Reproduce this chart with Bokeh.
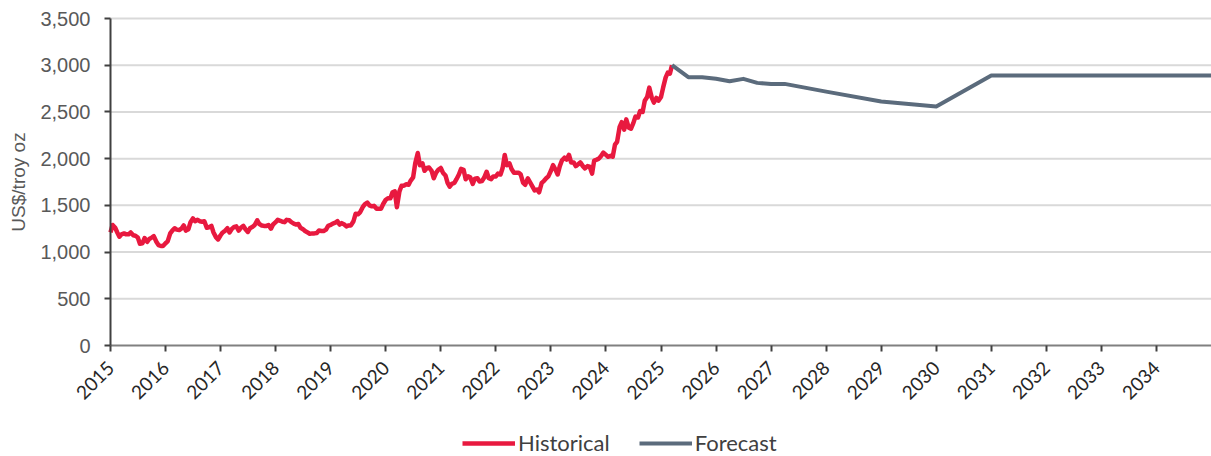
import math
import pandas as pd
from bokeh.plotting import figure
from bokeh.models import (ColumnDataSource, Legend, LegendItem, FixedTicker,
                          NumeralTickFormatter, Range1d, Label)
from bokeh.embed import file_html
from bokeh.resources import INLINE

# ---------------- data ----------------
hist_start = "2015-01-01"   # semi-monthly observations (1st and 15th)
hist_values = [
    # 2015
    1210, 1290, 1260, 1210, 1165, 1190, 1200, 1190, 1190, 1210, 1180, 1175,
    1155, 1090, 1095, 1150, 1110, 1140, 1155, 1170, 1110, 1075, 1065, 1065,
    # 2016
    1095, 1115, 1200, 1230, 1255, 1240, 1235, 1250, 1285, 1230, 1245, 1320,
    1360, 1330, 1345, 1330, 1325, 1330, 1260, 1265, 1280, 1210, 1160, 1135,
    # 2017
    1180, 1210, 1230, 1255, 1210, 1245, 1270, 1275, 1230, 1260, 1280, 1245,
    1215, 1255, 1270, 1290, 1340, 1300, 1285, 1280, 1280, 1290, 1250, 1295,
    # 2018
    1320, 1345, 1335, 1325, 1320, 1345, 1340, 1320, 1305, 1295, 1300, 1260,
    1245, 1225, 1210, 1195, 1200, 1200, 1205, 1230, 1225, 1225, 1240, 1280,
    # 2019
    1290, 1305, 1315, 1330, 1295, 1310, 1295, 1275, 1285, 1285, 1330, 1410,
    1405, 1425, 1480, 1510, 1530, 1500, 1490, 1495, 1465, 1465, 1465, 1515,
    # 2020
    1560, 1575, 1575, 1640, 1650, 1480, 1650, 1710, 1710, 1725, 1720, 1765,
    1800, 1950, 2060, 1930, 1950, 1870, 1900, 1905, 1870, 1790, 1850, 1880,
    # 2021
    1900, 1850, 1820, 1740, 1700, 1730, 1740, 1780, 1830, 1890, 1880, 1780,
    1810, 1800, 1730, 1785, 1790, 1755, 1760, 1795, 1860, 1790, 1780, 1810,
    # 2022
    1810, 1840, 1830, 1900, 2040, 1930, 1950, 1890, 1850, 1850, 1850, 1830,
    1740, 1720, 1790, 1750, 1700, 1660, 1670, 1640, 1740, 1760, 1790, 1810,
    # 2023
    1870, 1930, 1880, 1830, 1920, 1980, 2010, 1990, 2040, 1960, 1960, 1920,
    1940, 1960, 1920, 1895, 1920, 1915, 1840, 1980, 1990, 2000, 2030, 2065,
    # 2024
    2040, 2020, 2030, 2020, 2150, 2180, 2340, 2390, 2310, 2420, 2330, 2320,
    2380, 2450, 2440, 2510, 2500, 2620, 2660, 2760, 2650, 2600, 2650, 2620,
    # 2025
    2660, 2760, 2870, 2920, 2910, 3000,
]

fc_dates = ["2025-03-15", "2025-07-01", "2025-10-01", "2026-01-01", "2026-04-01",
            "2026-07-01", "2026-10-01", "2027-01-01", "2027-04-01", "2028-01-01",
            "2029-01-01", "2030-01-01", "2031-01-01", "2035-01-01"]
fc_values = [3000, 2872, 2872, 2855, 2829, 2854, 2811, 2800, 2800, 2717,
             2611, 2558, 2890, 2890]

year_ticks = list(range(2015, 2035))
y_ticks = [0, 500, 1000, 1500, 2000, 2500, 3000, 3500]
x_start, x_end = 2015, 2035
y_max = 3500


def decimal_year(dates):
    d = pd.to_datetime(pd.Series(dates))
    days = d.dt.is_leap_year.map({True: 366, False: 365})
    return (d.dt.year + (d.dt.dayofyear - 1) / days).tolist()


hist_dates = pd.date_range(hist_start, periods=len(hist_values), freq="SMS")
hist_src = ColumnDataSource(dict(x=decimal_year(hist_dates), y=hist_values))
fc_src = ColumnDataSource(dict(x=decimal_year(fc_dates), y=fc_values))
grid_src = ColumnDataSource(dict(y=y_ticks[1:],
                                 x0=[x_start] * (len(y_ticks) - 1),
                                 x1=[x_end] * (len(y_ticks) - 1)))

# ---------------- layout ----------------
RED = "#E8193F"
SLATE = "#5B6B7C"
TXT = "#595959"

# the frame covers the whole canvas; the data area (2015-2035, 0-3500)
# sits 110 px from the left, 18 px from the top and 111 px above the
# bottom, leaving room for the y labels, rotated year labels and legend
W, LEFT, PLOT_W = 1211, 110, 1101
TOP, PLOT_H, BELOW_H = 18, 327, 111
x_lo = x_start - (x_end - x_start) * LEFT / PLOT_W
y_lo = -y_max * BELOW_H / PLOT_H
y_hi = y_max + y_max * TOP / PLOT_H

p = figure(frame_width=W, frame_height=TOP + PLOT_H + BELOW_H,
           x_range=Range1d(x_lo, x_end), y_range=Range1d(y_lo, y_hi),
           output_backend="svg", toolbar_location=None,
           min_border_left=0, min_border_right=0, min_border_top=0,
           min_border_bottom=0)
p.outline_line_color = None
p.background_fill_color = "white"
p.border_fill_color = "white"
p.xgrid.visible = False
p.ygrid.visible = False

# horizontal gridlines, only across the data area
p.segment(x0="x0", x1="x1", y0="y", y1="y", source=grid_src,
          line_color="#D9D9D9", line_width=2)

r_h = p.line("x", "y", source=hist_src, line_color=RED, line_width=4.5,
             line_join="round")
r_f = p.line("x", "y", source=fc_src, line_color=SLATE, line_width=4,
             line_join="round")

# y axis at 2015
p.yaxis.fixed_location = x_start
p.yaxis.bounds = (0, y_max)
p.yaxis.ticker = FixedTicker(ticks=y_ticks)
p.yaxis.formatter = NumeralTickFormatter(format="0,0")
p.yaxis.major_label_text_font = "Liberation Sans"
p.yaxis.major_label_text_font_size = "20px"
p.yaxis.major_label_text_color = TXT
p.yaxis.major_label_standoff = 14
p.yaxis.axis_line_color = "#404040"
p.yaxis.axis_line_width = 2
p.yaxis.major_tick_line_color = "#404040"
p.yaxis.major_tick_line_width = 2
p.yaxis.major_tick_out = 6
p.yaxis.major_tick_in = 0
p.yaxis.minor_tick_line_color = None

# x axis at the zero line
p.xaxis.fixed_location = 0
p.xaxis.bounds = (x_start, x_end)
p.xaxis.ticker = FixedTicker(ticks=year_ticks)
p.xaxis.major_label_orientation = math.pi / 4
p.xaxis.major_label_text_font = "Lato"
p.xaxis.major_label_text_font_size = "19px"
p.xaxis.major_label_text_color = "#262626"
p.xaxis.major_label_standoff = 13
p.xaxis.axis_line_color = "#808080"
p.xaxis.axis_line_width = 2
p.xaxis.major_tick_line_color = "#404040"
p.xaxis.major_tick_line_width = 2
p.xaxis.major_tick_out = 6
p.xaxis.major_tick_in = 0
p.xaxis.minor_tick_line_color = None

# y axis title
p.add_layout(Label(x=18, y=BELOW_H + PLOT_H / 2, x_units="screen",
                   y_units="screen", angle=math.pi / 2, text="US$/troy oz",
                   text_align="center", text_baseline="middle",
                   text_font="Liberation Sans", text_font_size="19px",
                   text_color=TXT))

# legend under the year labels
legend = Legend(items=[LegendItem(label="Historical", renderers=[r_h]),
                       LegendItem(label="Forecast", renderers=[r_f])],
                orientation="horizontal", location=(LEFT + 352, 0))
legend.label_text_font = "Lato"
legend.label_text_font_size = "22px"
legend.label_text_color = "#404040"
legend.glyph_width = 53
legend.glyph_height = 20
legend.label_standoff = 3
legend.spacing = 29
legend.padding = 0
legend.margin = 0
legend.border_line_color = None
legend.background_fill_alpha = 0
p.add_layout(legend, "center")

open("out.html", "w").write(file_html(p, INLINE))
